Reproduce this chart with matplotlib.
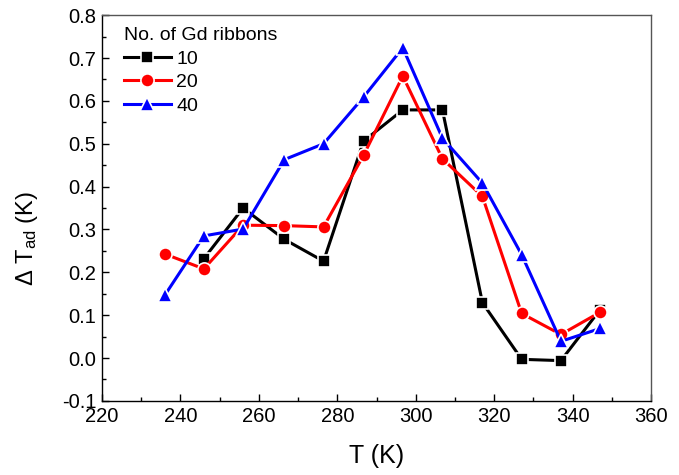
import numpy as np
import matplotlib
matplotlib.use('Agg')
import matplotlib.pyplot as plt

plt.rcParams['font.family'] = ['Liberation Sans', 'DejaVu Sans']
plt.rcParams['mathtext.fontset'] = 'custom'
plt.rcParams['mathtext.rm'] = 'Liberation Sans'
plt.rcParams['mathtext.it'] = 'Liberation Sans:italic'
plt.rcParams['axes.unicode_minus'] = False

# temperatures (K)
T = [236, 246, 256, 266.5, 276.5, 286.7, 296.7, 306.8, 317, 327, 337, 347]

# adiabatic temperature change (K) per number of Gd ribbons
dT_10 = [np.nan, 0.232, 0.350, 0.277, 0.226, 0.506, 0.579, 0.579, 0.129, -0.003, -0.006, 0.113]
dT_20 = [0.243, 0.208, 0.310, 0.309, 0.306, 0.473, 0.658, 0.465, 0.377, 0.104, 0.055, 0.107]
dT_40 = [0.146, 0.285, 0.301, 0.463, 0.500, 0.609, 0.724, 0.513, 0.408, 0.241, 0.039, 0.069]

series = [("10", dT_10, 'black', 's', 8),
          ("20", dT_20, 'red', 'o', 9.5),
          ("40", dT_40, 'blue', '^', 10)]

fig = plt.figure(figsize=(6.79, 4.75), dpi=100)
ax = fig.add_axes([0.150, 0.156, 0.809, 0.812])

for lab, y, col, mk, ms in series:
    ax.plot(T, y, color=col, lw=2.2, marker=mk, ms=ms, mfc=col,
            mec='white', mew=1.2, label=lab)

ax.set_xlim(220, 360)
ax.set_ylim(-0.1, 0.8)
ax.set_xticks(np.arange(220, 361, 20))
ax.set_xticks(np.arange(230, 360, 20), minor=True)
ax.set_yticks(np.round(np.arange(-0.1, 0.81, 0.1), 1))
ax.set_yticks(np.arange(-0.05, 0.8, 0.1), minor=True)
ax.yaxis.set_major_formatter(matplotlib.ticker.FormatStrFormatter('%.1f'))
ax.tick_params(which='both', direction='in', labelsize=14.5, width=1)
ax.tick_params(which='major', length=5)
ax.tick_params(which='minor', length=3)
ax.tick_params(axis='x', pad=4.5)
ax.tick_params(axis='y', pad=4)
for s in ax.spines.values():
    s.set_linewidth(1)
ax.spines['top'].set_color('#555555')
ax.spines['right'].set_color('#555555')

ax.set_xlabel('T (K)', fontsize=18, labelpad=13)
ax.set_ylabel(r'$\Delta$ T$_{\mathrm{ad}}$ (K)', fontsize=17)
ax.yaxis.set_label_coords(-0.113, 0.42)

leg = ax.legend(title='No. of Gd ribbons', loc='upper left', frameon=False,
                fontsize=14, title_fontsize=14, handlelength=2.4,
                bbox_to_anchor=(0.019, 0.999), borderaxespad=0,
                borderpad=0.6, labelspacing=0.3, handletextpad=0.3)
leg._legend_box.align = 'left'

fig.savefig('out.png', dpi=100)
